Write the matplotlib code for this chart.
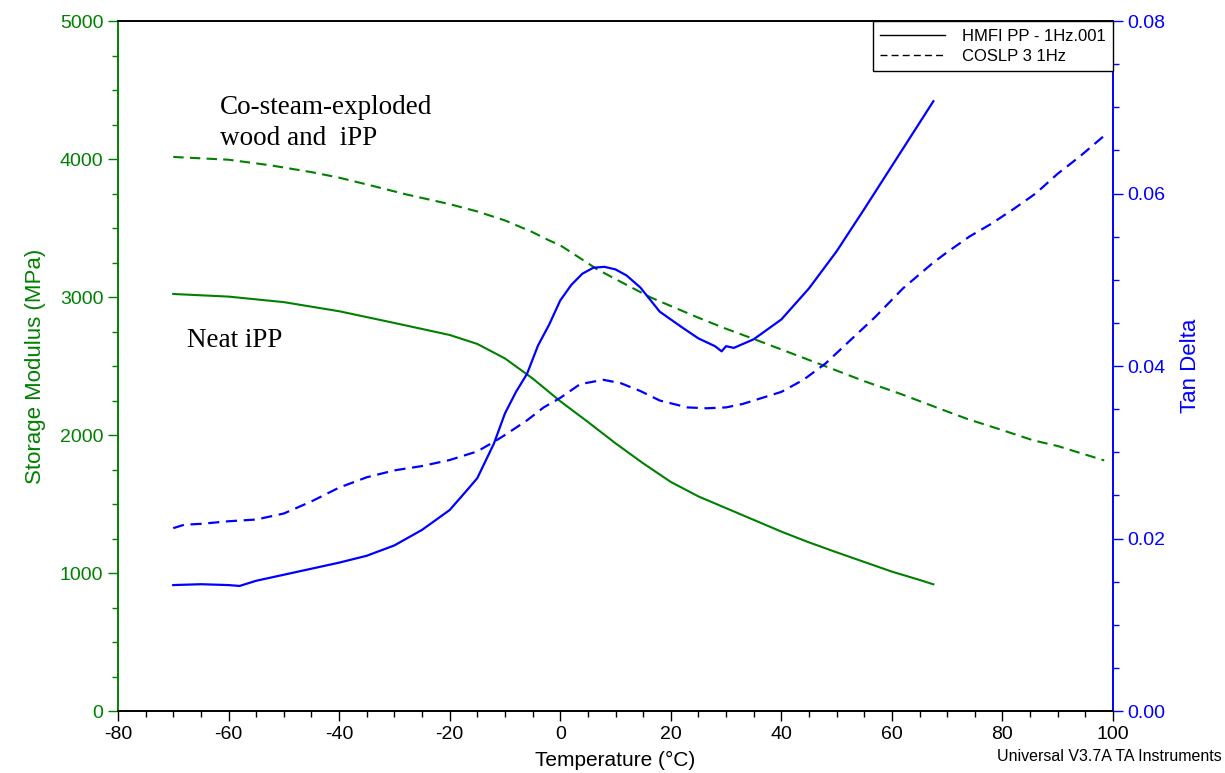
import matplotlib
matplotlib.use("Agg")
import matplotlib.pyplot as plt
from matplotlib.lines import Line2D
from matplotlib.ticker import MultipleLocator, FormatStrFormatter

# ---- data ----
# Neat iPP storage modulus (MPa)
t_neat_E = [-70, -60, -50, -40, -30, -20, -15, -10, -5, 0, 5, 10, 15, 20, 25, 30,
            35, 40, 45, 50, 55, 60, 65, 67.5]
E_neat = [3022, 3003, 2963, 2897, 2812, 2725, 2660, 2555, 2410, 2245, 2095, 1940,
          1795, 1660, 1555, 1470, 1385, 1300, 1222, 1150, 1080, 1010, 950, 918]

# Composite storage modulus (MPa)
t_comp_E = [-70, -60, -52.5, -45, -40, -34, -28, -20, -15, -10, -5, -2, 0, 5, 6.6,
            10, 16.3, 20, 25, 30, 35, 40, 47.6, 55, 61.5, 68.7, 73.6, 80, 85.6,
            90, 98.4]
E_comp = [4015, 3995, 3955, 3905, 3865, 3806, 3745, 3673, 3620, 3555, 3470, 3410,
          3375, 3245, 3203, 3130, 2998, 2935, 2850, 2770, 2696, 2620, 2504, 2390,
          2299, 2190, 2117, 2035, 1961, 1920, 1816]

# Neat iPP tan delta
t_neat_tan = [-70, -65, -60, -58, -55, -50, -45, -40, -35, -30, -25, -20, -17, -15,
              -12, -10, -8, -6, -4, -2, 0, 2, 4, 6, 8, 10, 12, 14.5, 18, 22, 25,
              28, 29.2, 30, 31.4, 35, 40, 45, 50, 55, 60, 65, 67.5]
tan_neat = [0.0146, 0.0147, 0.0146, 0.0145, 0.0151, 0.0158, 0.0165, 0.0172, 0.0180,
            0.0192, 0.0210, 0.0233, 0.0255, 0.0270, 0.0310, 0.0345, 0.0370, 0.0391,
            0.0424, 0.0448, 0.0476, 0.0494, 0.0507, 0.0514, 0.0515, 0.0512, 0.0505,
            0.0491, 0.0463, 0.0445, 0.0432, 0.0423, 0.0417, 0.0423, 0.0421, 0.0431,
            0.0454, 0.0490, 0.0533, 0.0582, 0.0632, 0.0682, 0.0707]

# Composite tan delta
t_comp_tan = [-70, -68, -65, -60, -55, -50, -45, -40, -35, -30, -25, -20, -15, -12,
              -10, -6, -3, 0, 3.6, 7.8, 11, 14.5, 18, 23, 26.5, 30, 33, 36, 40, 44,
              48, 52, 57, 62, 67.5, 70, 74, 78, 82, 86, 90, 94, 98.4]
tan_comp = [0.0212, 0.0216, 0.0217, 0.0220, 0.0222, 0.0229, 0.0243, 0.0259, 0.0271,
            0.0279, 0.0284, 0.0291, 0.0301, 0.0312, 0.0320, 0.0337, 0.0352, 0.0363,
            0.0379, 0.0384, 0.0380, 0.0371, 0.0360, 0.0352, 0.0351, 0.0352, 0.0356,
            0.0362, 0.0370, 0.0384, 0.0403, 0.0427, 0.0457, 0.0490, 0.0520, 0.0532,
            0.0550, 0.0565, 0.0582, 0.0600, 0.0623, 0.0643, 0.0667]

legend_labels = ["HMFI PP - 1Hz.001", "COSLP 3 1Hz"]

GREEN = "#008000"
BLUE = "#0000FF"

plt.rcParams['font.family'] = ['Liberation Sans', 'DejaVu Sans']
plt.rcParams['axes.unicode_minus'] = False

fig = plt.figure(figsize=(12.25, 7.73), dpi=100)
ax = fig.add_axes([0.0963, 0.0802, 0.8123, 0.8926])
ax2 = ax.twinx()

dash = (0, (5, 3))
ax.plot(t_neat_E, E_neat, color=GREEN, lw=1.5)
ax.plot(t_comp_E, E_comp, color=GREEN, lw=1.5, linestyle=dash)
ax2.plot(t_neat_tan, tan_neat, color=BLUE, lw=1.6)
ax2.plot(t_comp_tan, tan_comp, color=BLUE, lw=1.6, linestyle=dash)

ax.set_xlim(-80, 100)
ax.set_ylim(0, 5000)
ax2.set_ylim(0, 0.08)

ax.xaxis.set_major_locator(MultipleLocator(20))
ax.xaxis.set_minor_locator(MultipleLocator(5))
ax.yaxis.set_major_locator(MultipleLocator(1000))
ax.yaxis.set_minor_locator(MultipleLocator(250))
ax2.yaxis.set_major_locator(MultipleLocator(0.02))
ax2.yaxis.set_minor_locator(MultipleLocator(0.005))
ax2.yaxis.set_major_formatter(FormatStrFormatter('%.2f'))

ax.tick_params(axis='x', which='major', direction='out', length=7, width=1,
               labelsize=14, colors='black')
ax.tick_params(axis='x', which='minor', direction='out', length=4, width=1)
ax.tick_params(axis='y', which='major', direction='out', length=7, width=1,
               labelsize=14, colors=GREEN)
ax.tick_params(axis='y', which='minor', direction='out', length=4, width=1,
               colors=GREEN)
ax2.tick_params(axis='y', which='major', direction='out', length=7, width=1,
                labelsize=14, colors=BLUE)
ax2.tick_params(axis='y', which='minor', direction='out', length=4, width=1,
                colors=BLUE)

for a in (ax, ax2):
    a.spines['left'].set_color(GREEN)
    a.spines['right'].set_color(BLUE)
    a.spines['top'].set_color('black')
    a.spines['bottom'].set_color('black')
    for s in a.spines.values():
        s.set_linewidth(1.2)

ax.set_xlabel("Temperature (°C)", fontsize=15, labelpad=6)
ax.set_ylabel("Storage Modulus (MPa)", fontsize=16, color=GREEN, labelpad=10)
ax2.set_ylabel("Tan Delta", fontsize=16, color=BLUE, labelpad=10)

ax.text(-61.5, 4262, "Co-steam-exploded\nwood and  iPP", fontsize=19.5,
        family='Liberation Serif', ha='left', va='center', linespacing=1.3)
ax.text(-67.5, 2684, "Neat iPP", fontsize=19.5, family='Liberation Serif',
        ha='left', va='center')

handles = [Line2D([], [], color='black', lw=1),
           Line2D([], [], color='black', lw=1, linestyle=(0, (5, 3)))]
leg = ax2.legend(handles, legend_labels, loc='upper right', fontsize=12,
                 handlelength=3.9, frameon=True, fancybox=False,
                 borderaxespad=0, framealpha=1, edgecolor='black',
                 borderpad=0.45, labelspacing=0.3, handletextpad=1.0)
leg.get_frame().set_linewidth(1)

fig.text(0.997, 0.012, "Universal V3.7A TA Instruments", fontsize=11.5,
         ha='right', va='bottom')

fig.savefig("out.png", dpi=100)
